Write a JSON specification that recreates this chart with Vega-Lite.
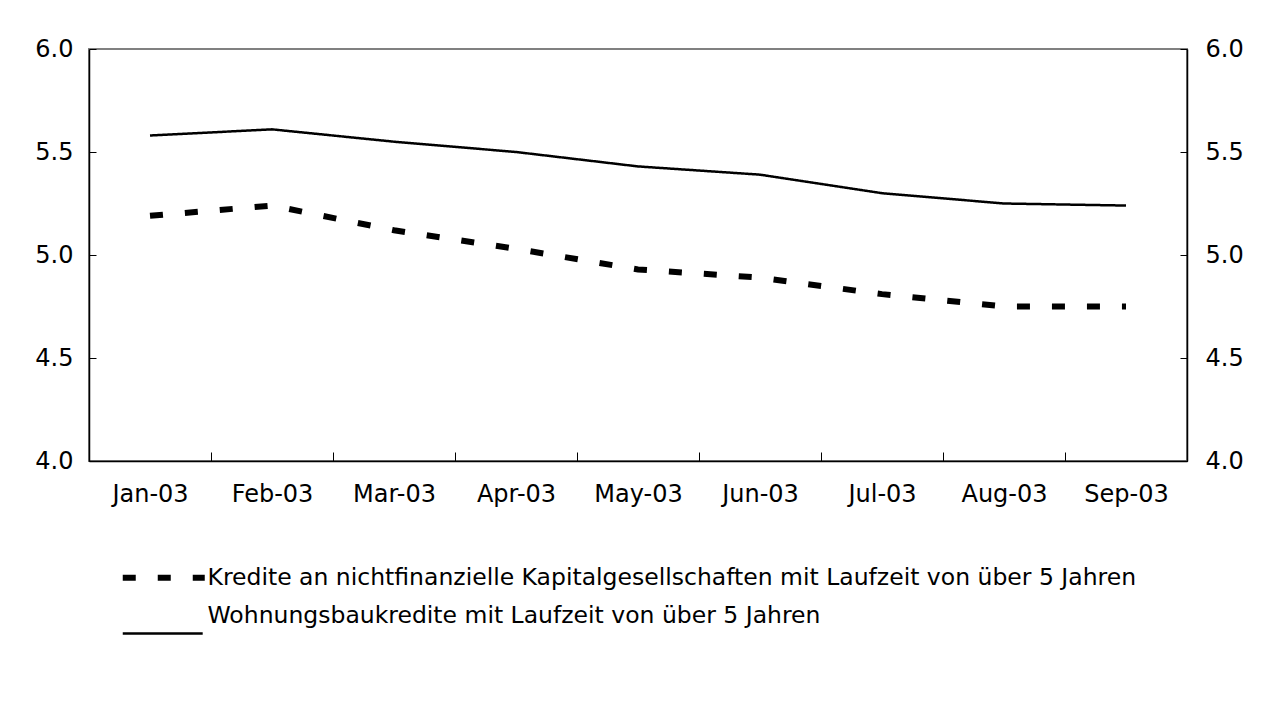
{
  "$schema": "https://vega.github.io/schema/vega-lite/v6.json",
  "width": 1098,
  "height": 412,
  "autosize": {"type": "none"},
  "padding": {"left": 89, "top": 49, "right": 81, "bottom": 261},
  "background": "white",
  "config": {
    "font": "DejaVu Sans",
    "view": {"stroke": "#808080", "strokeWidth": 2},
    "axis": {
      "labelFont": "DejaVu Sans",
      "labelFontSize": 24,
      "labelColor": "#000000",
      "domainColor": "#000000",
      "domainWidth": 1.5,
      "tickColor": "#000000",
      "tickWidth": 1,
      "grid": false,
      "title": null
    },
    "legend": {
      "labelFont": "DejaVu Sans",
      "labelFontSize": 23.5,
      "labelColor": "#000000",
      "labelLimit": 0,
      "padding": 0
    }
  },
  "data": {
    "values": [
      {"month": "Jan-03", "series": "Kredite an nichtfinanzielle Kapitalgesellschaften mit Laufzeit von über 5 Jahren", "value": 5.19},
      {"month": "Feb-03", "series": "Kredite an nichtfinanzielle Kapitalgesellschaften mit Laufzeit von über 5 Jahren", "value": 5.24},
      {"month": "Mar-03", "series": "Kredite an nichtfinanzielle Kapitalgesellschaften mit Laufzeit von über 5 Jahren", "value": 5.12},
      {"month": "Apr-03", "series": "Kredite an nichtfinanzielle Kapitalgesellschaften mit Laufzeit von über 5 Jahren", "value": 5.03},
      {"month": "May-03", "series": "Kredite an nichtfinanzielle Kapitalgesellschaften mit Laufzeit von über 5 Jahren", "value": 4.93},
      {"month": "Jun-03", "series": "Kredite an nichtfinanzielle Kapitalgesellschaften mit Laufzeit von über 5 Jahren", "value": 4.89},
      {"month": "Jul-03", "series": "Kredite an nichtfinanzielle Kapitalgesellschaften mit Laufzeit von über 5 Jahren", "value": 4.81},
      {"month": "Aug-03", "series": "Kredite an nichtfinanzielle Kapitalgesellschaften mit Laufzeit von über 5 Jahren", "value": 4.75},
      {"month": "Sep-03", "series": "Kredite an nichtfinanzielle Kapitalgesellschaften mit Laufzeit von über 5 Jahren", "value": 4.75},
      {"month": "Jan-03", "series": "Wohnungsbaukredite mit Laufzeit von über 5 Jahren", "value": 5.58},
      {"month": "Feb-03", "series": "Wohnungsbaukredite mit Laufzeit von über 5 Jahren", "value": 5.61},
      {"month": "Mar-03", "series": "Wohnungsbaukredite mit Laufzeit von über 5 Jahren", "value": 5.55},
      {"month": "Apr-03", "series": "Wohnungsbaukredite mit Laufzeit von über 5 Jahren", "value": 5.50},
      {"month": "May-03", "series": "Wohnungsbaukredite mit Laufzeit von über 5 Jahren", "value": 5.43},
      {"month": "Jun-03", "series": "Wohnungsbaukredite mit Laufzeit von über 5 Jahren", "value": 5.39},
      {"month": "Jul-03", "series": "Wohnungsbaukredite mit Laufzeit von über 5 Jahren", "value": 5.30},
      {"month": "Aug-03", "series": "Wohnungsbaukredite mit Laufzeit von über 5 Jahren", "value": 5.25},
      {"month": "Sep-03", "series": "Wohnungsbaukredite mit Laufzeit von über 5 Jahren", "value": 5.24}
    ]
  },
  "encoding": {
    "x": {
      "field": "month",
      "type": "ordinal",
      "sort": null,
      "scale": {"type": "band", "paddingInner": 0, "paddingOuter": 0},
      "axis": {"labelAngle": 0, "tickBand": "extent", "tickSize": -9, "labelPadding": 30, "domainWidth": 1.5}
    }
  },
  "layer": [
    {
      "encoding": {
        "y": {
          "field": "value",
          "type": "quantitative",
          "scale": {"domain": [4, 6], "nice": false, "zero": false},
          "axis": {"orient": "left", "values": [4, 4.5, 5, 5.5, 6], "format": ".1f", "tickSize": -7, "labelPadding": 23}
        }
      },
      "layer": [
        {
          "transform": [{"filter": "datum.series === 'Wohnungsbaukredite mit Laufzeit von über 5 Jahren'"}],
          "mark": {"type": "line", "color": "#000000", "strokeWidth": 2.5},
          "encoding": {
            "strokeDash": {
              "field": "series",
              "type": "nominal",
              "scale": {
                "domain": ["Kredite an nichtfinanzielle Kapitalgesellschaften mit Laufzeit von über 5 Jahren", "Wohnungsbaukredite mit Laufzeit von über 5 Jahren"],
                "range": [[13, 22], [1, 0]]
              },
              "legend": {
                "title": null,
                "orient": "none",
                "legendX": 63,
                "legendY": 517,
                "symbolType": "M-1,0H1",
                "symbolSize": 6724,
                "symbolStrokeColor": "#000000",
                "symbolStrokeWidth": 6,
                "rowPadding": 13,
                "labelOffset": 32,
                "encode": {
                  "symbols": {
                    "update": {
                      "strokeWidth": {"signal": "datum.value === 'Wohnungsbaukredite mit Laufzeit von über 5 Jahren' ? 2.5 : 6"},
                      "shape": {"signal": "datum.value === 'Wohnungsbaukredite mit Laufzeit von über 5 Jahren' ? 'M-1,0.43H0.95' : 'M-1,0H1'"},
                      "strokeCap": {"value": "butt"}
                    }
                  }
                }
              }
            }
          }
        },
        {
          "transform": [{"filter": "datum.series !== 'Wohnungsbaukredite mit Laufzeit von über 5 Jahren'"}],
          "mark": {"type": "line", "color": "#000000", "strokeWidth": 6, "strokeCap": "butt"},
          "encoding": {
            "strokeDash": {"field": "series", "type": "nominal"}
          }
        }
      ]
    },
    {
      "mark": {"type": "rule", "opacity": 0},
      "encoding": {
        "y": {
          "field": "value",
          "type": "quantitative",
          "axis": {"orient": "right", "values": [4, 4.5, 5, 5.5, 6], "format": ".1f", "tickSize": -7, "labelPadding": 25}
        }
      }
    }
  ],
  "resolve": {"scale": {"y": "shared"}, "axis": {"y": "independent"}}
}
